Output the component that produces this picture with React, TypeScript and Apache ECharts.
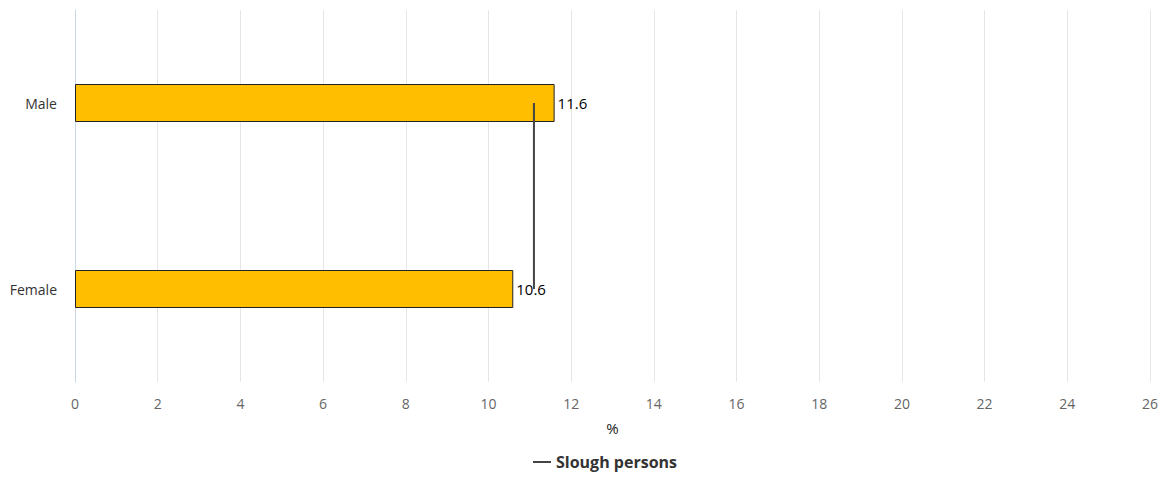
import React, { useEffect, useRef } from "react";
import * as echarts from "echarts";

const categories = ["Male", "Female"];
const barValues = [11.6, 10.6];
const sloughValue = 11.1;
const lineName = "Slough persons";
const xMin = 0;
const xMax = 26;
const xInterval = 2;

export default function App() {
  const ref = useRef<HTMLDivElement>(null);
  useEffect(() => {
    if (!ref.current) return;
    const chart = echarts.init(ref.current, undefined, { renderer: "svg" });
    const font = "'Open Sans', 'Noto Sans', sans-serif";
    chart.setOption({
      animation: false,
      textStyle: { fontFamily: font },
      grid: { left: 75, right: 11, top: 10, bottom: 95, containLabel: false },
      legend: {
        data: [lineName],
        top: 452,
        left: 531,
        padding: 2,
        icon: "rect",
        itemWidth: 18,
        itemHeight: 2,
        itemGap: 10,
        textStyle: { fontSize: 16, fontWeight: "bold", color: "#333", fontFamily: font },
      },
      xAxis: {
        type: "value",
        min: xMin,
        max: xMax,
        interval: xInterval,
        name: "%",
        nameLocation: "middle",
        nameGap: 38,
        nameTextStyle: { fontSize: 15, color: "#222", fontFamily: font },
        axisLine: { show: false },
        axisTick: { show: false },
        axisLabel: { fontSize: 14, color: "#666", margin: 14, fontFamily: font },
        splitLine: { show: true, lineStyle: { color: "#e6e6e6", width: 1 } },
      },
      yAxis: {
        type: "category",
        data: categories,
        inverse: true,
        axisLine: { show: true, lineStyle: { color: "#ccd6eb", width: 1 } },
        axisTick: { show: false },
        axisLabel: { fontSize: 14, color: "#333", margin: 18, fontFamily: font },
        splitLine: { show: false },
      },
      series: [
        {
          type: "bar",
          name: "Value",
          data: barValues,
          barWidth: 38,
          itemStyle: { color: "#FFBF00", borderColor: "#222", borderWidth: 1 },
          label: {
            show: true,
            position: "right",
            distance: 3,
            color: "#000",
            fontSize: 15,
            fontFamily: font,
          },
          z: 2,
        },
        {
          type: "line",
          name: lineName,
          data: categories.map((c) => [sloughValue, c]),
          showSymbol: false,
          symbol: "none",
          lineStyle: { color: "#444", width: 2 },
          itemStyle: { color: "#444" },
          z: 3,
        },
      ],
    });
    return () => chart.dispose();
  }, []);
  return (
    <div
      ref={ref}
      style={{ position: "absolute", left: 0, top: 0, width: 1161, height: 477 }}
    />
  );
}
